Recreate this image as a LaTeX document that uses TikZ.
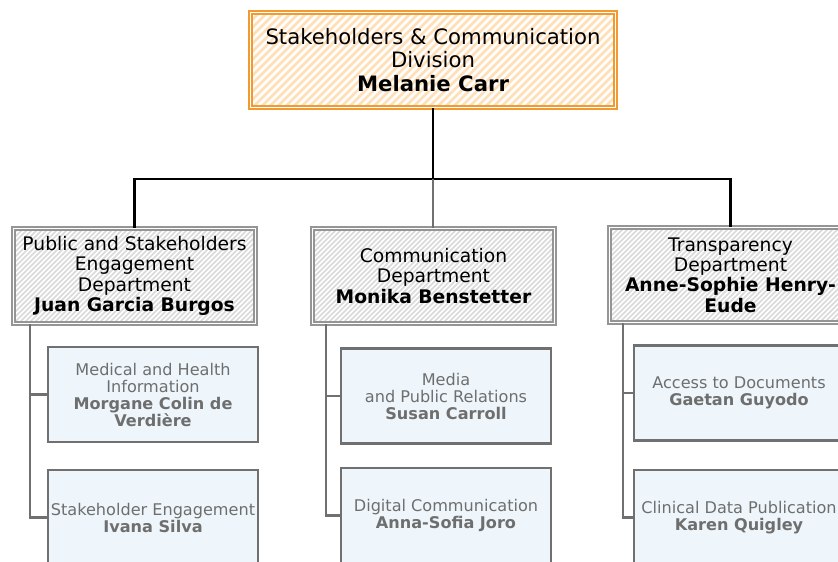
\documentclass[tikz,border=0pt]{standalone}
\usepackage{fontspec}
\setmainfont{DejaVu Sans}
\definecolor{orB}{HTML}{F09A30}
\definecolor{orS}{HTML}{FFDFB8}
\definecolor{dpB}{HTML}{959595}
\definecolor{dpS}{HTML}{DADADA}
\definecolor{sbB}{HTML}{707070}
\definecolor{sbF}{HTML}{EEF6FB}
\definecolor{sbT}{HTML}{6E6E6E}
\tikzset{
  topbox/.style={draw=orB, double=white, double distance=1.6pt, line width=1.5pt,
    fill=white, minimum width=365pt, minimum height=95pt, inner sep=0pt, align=center,
    font=\fontsize{21.2}{23.2}\selectfont,
    path picture={\foreach \i in {-110,-102,...,380}{\draw[orS, line width=2.8pt]
      ([xshift=\i pt]path picture bounding box.south west) -- ++(130pt,130pt);}}},
  deptbox/.style={draw=dpB, double=white, double distance=1.4pt, line width=1.4pt,
    fill=white, minimum width=242pt, minimum height=95pt, inner sep=0pt, align=center,
    font=\fontsize{18.7}{20.3}\selectfont,
    path picture={\foreach \i in {-110,-105,...,260}{\draw[dpS, line width=1.5pt]
      ([xshift=\i pt]path picture bounding box.south west) -- ++(130pt,130pt);}}},
  subbox/.style={draw=sbB, line width=2.2pt, fill=sbF, text=sbT,
    minimum width=210pt, minimum height=95pt, inner sep=0pt, align=center,
    font=\fontsize{16.1}{17}\selectfont},
  mainline/.style={draw=black, line width=2.2pt},
  greyline/.style={draw=sbB, line width=2.4pt},
}
\begin{document}
\begin{tikzpicture}[x=1pt,y=-1pt]
\useasboundingbox (0,0) rectangle (838,562);
% top
\node[topbox] (top) at (433,60) {Stakeholders \& Communication\\Division\\\textbf{Melanie Carr}};
% departments
\node[deptbox] (d1) at (134.5,276) {Public and Stakeholders\\Engagement\\Department\\\textbf{Juan Garcia Burgos}};
\node[deptbox] (d2) at (433.5,276) {Communication\\Department\\\textbf{Monika Benstetter}};
\node[deptbox] (d3) at (730.5,275) {Transparency\\Department\\\textbf{Anne-Sophie Henry-}\\\textbf{Eude}};
% sub units
\node[subbox] (s11) at (153,394.5) {Medical and Health\\Information\\\textbf{Morgane Colin de}\\\textbf{Verdière}};
\node[subbox] (s12) at (153,517.5) {Stakeholder Engagement\\\textbf{Ivana Silva}};
\node[subbox] (s21) at (446,396) {Media\\and Public Relations\\\textbf{Susan Carroll}};
\node[subbox] (s22) at (446,515.5) {Digital Communication\\\textbf{Anna-Sofia Joro}};
\node[subbox] (s31) at (739,393) {Access to Documents\\\textbf{Gaetan Guyodo}};
\node[subbox] (s32) at (739,517.5) {Clinical Data Publication\\\textbf{Karen Quigley}};
% top connectors
\coordinate (hub) at (433,179);
\draw[mainline] (top.south) -- (hub);
\draw[mainline] (hub) -| (d1.north);
\draw[mainline] (hub) -| (d3.north);
\draw[greyline] (hub) -- (hub |- d2.north);
% sub connectors
\draw[greyline] ([xshift=17pt]d1.south west) |- (s11.west);
\draw[greyline] ([xshift=17pt]d1.south west) |- (s12.west);
\draw[greyline] ([xshift=14pt]d2.south west) |- (s21.west);
\draw[greyline] ([xshift=14pt]d2.south west) |- (s22.west);
\draw[greyline] ([xshift=14pt]d3.south west) |- (s31.west);
\draw[greyline] ([xshift=14pt]d3.south west) |- (s32.west);
\end{tikzpicture}
\end{document}
